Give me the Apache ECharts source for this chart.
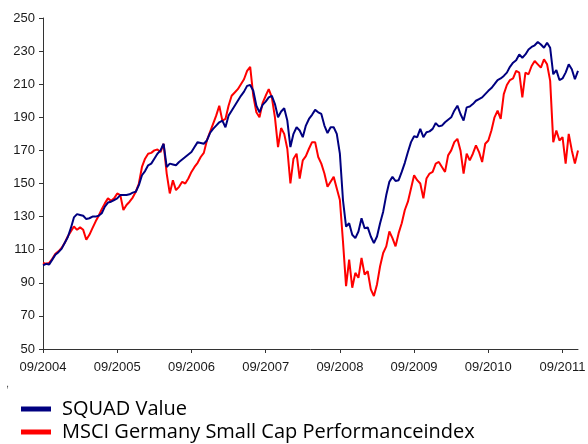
<!DOCTYPE html>
<html>
<head>
<meta charset="utf-8">
<script src="https://cdn.jsdelivr.net/npm/echarts@6/dist/echarts.min.js"></script>
<style>
  html, body { margin: 0; padding: 0; background: #fff; }
  #chart { width: 588px; height: 444px; }
</style>
</head>
<body>
<div id="chart"></div>
<script>
  // half-month steps starting 09/2004
  const yearTicks = [0, 12, 24, 36, 48, 60, 72, 84];
  const yearLabels = ['09/2004', '09/2005', '09/2006', '09/2007', '09/2008', '09/2009', '09/2010', '09/2011'];

  const squadValue = [
    100.5, 101.5, 101, 104, 107, 108.5, 110.5, 114, 117.5, 123,
    129.5, 131.5, 131, 130.5, 128.5, 129, 130, 130, 130.5, 132,
    136, 138.5, 139, 140, 141, 143, 143, 143, 143.5, 144.5,
    145, 149, 155, 157.5, 161, 162, 165, 168, 170, 174,
    160, 162, 161.5, 161, 163, 164.5, 166, 167.5, 169, 172,
    175, 174.5, 174, 176, 180.5, 183, 185, 187, 188, 184,
    191, 194, 197, 200, 203, 205.5, 209, 209.5, 206, 197,
    193, 197.5, 199.5, 202, 203, 198, 190, 193.5, 195.5, 188,
    172, 180, 184, 182, 178, 185, 189, 191.5, 194.5, 193,
    192, 185, 180.5, 184, 184, 180, 168, 140, 124, 126,
    119, 117, 121, 129, 123, 123.5, 118, 114, 118, 126,
    133, 143, 151, 154, 151.5, 152, 157, 162.5, 169, 175,
    178.5, 178, 183, 178, 181, 181.5, 183, 186.5, 184.5, 185,
    187, 188.5, 190, 194, 197, 192, 188, 196, 196.5, 198,
    200, 201, 202, 204, 206, 207.7, 210, 212.5, 213.5, 215,
    217, 220.5, 223, 224.5, 228, 226, 228, 231, 232.5, 233.5,
    235.5, 234, 232, 235, 232, 216, 218.5, 212.5, 213.5, 217,
    222, 219, 213, 218
  ];

  const msciSmallCap = [
    102, 101.5, 102, 104.5, 107.5, 109, 111, 114, 118, 121,
    124, 122, 123.5, 122, 116, 119, 123, 127, 130.5, 134.5,
    138, 141, 139.5, 141, 144, 143, 134, 137, 139, 141.5,
    145, 150, 160, 165, 168, 168.5, 170, 170.5, 169, 174,
    156, 144, 152, 146, 148, 151, 150, 153, 157, 160,
    162.5, 166, 168.5, 176, 181, 186, 191, 197, 188, 189,
    197, 203, 205, 207, 210, 213, 218, 220.5, 203, 193,
    190, 198.5, 203, 207, 202, 190, 172, 183.5, 180, 171,
    150, 165, 168, 153, 164, 166.5, 171, 175, 175, 166,
    162, 156, 148, 151, 154, 147, 140, 115, 88, 104,
    87, 96, 93, 105, 95, 97, 86, 82, 89, 100,
    108, 112, 121, 117, 112, 120, 126, 134, 139, 147,
    155, 152, 150, 141, 153, 156, 157, 162, 163, 160,
    157, 167, 170, 175, 177, 170, 156, 168, 164, 168,
    173, 169, 163, 174, 176, 182, 190, 194, 189, 204,
    209.5, 212.5, 213.5, 218, 217, 202, 217, 216, 221, 224,
    222, 220, 225, 222, 212, 175, 182, 176, 178, 162,
    180, 170, 162, 170
  ];

  const toPairs = (arr) => arr.map((v, i) => [i * 0.5, v]);

  const chart = echarts.init(document.getElementById('chart'), null, { renderer: 'canvas' });

  chart.setOption({
    animation: false,
    backgroundColor: '#ffffff',
    grid: {
      left: 43,
      right: 10,
      top: 18,
      bottom: 95,
      outerBoundsMode: 'none',
    },
    legend: {
      orient: 'vertical',
      left: 21,
      top: 399,
      padding: 0,
      icon: 'rect',
      itemWidth: 30,
      itemHeight: 5,
      itemGap: 3,
      data: ['SQUAD Value', 'MSCI Germany Small Cap Performanceindex'],
      textStyle: {
        fontFamily: 'Open Sans',
        fontSize: 20,
        color: '#000',
        lineHeight: 20,
        padding: [0, 0, 0, 6],
      },
    },
    graphic: [
      {
        type: 'text',
        left: 6,
        top: 378,
        style: { text: ',', fontSize: 11, fill: '#555', fontFamily: 'Liberation Sans' },
      },
    ],
    xAxis: {
      type: 'value',
      min: 0,
      max: 86.5,
      interval: 12,
      splitLine: { show: false },
      axisLine: { show: true, lineStyle: { color: '#333', width: 1 } },
      axisTick: {
        show: true,
        length: 4,
        customValues: yearTicks,
        lineStyle: { color: '#333' },
      },
      axisLabel: {
        customValues: yearTicks,
        margin: 12,
        fontFamily: 'Liberation Sans',
        fontSize: 13,
        color: '#1a1a1a',
        formatter: (v) => yearLabels[yearTicks.indexOf(v)] || '',
      },
    },
    yAxis: {
      type: 'value',
      min: 50,
      max: 250,
      interval: 20,
      splitLine: { show: false },
      axisLine: { show: true, lineStyle: { color: '#333', width: 1 } },
      axisTick: { show: true, length: 4, lineStyle: { color: '#333' } },
      axisLabel: {
        margin: 8,
        fontFamily: 'Liberation Sans',
        fontSize: 13,
        color: '#1a1a1a',
      },
    },
    series: [
      {
        name: 'MSCI Germany Small Cap Performanceindex',
        type: 'line',
        data: toPairs(msciSmallCap),
        showSymbol: false,
        color: '#ff0000',
        lineStyle: { width: 2, color: '#ff0000' },
        z: 2,
      },
      {
        name: 'SQUAD Value',
        type: 'line',
        data: toPairs(squadValue),
        showSymbol: false,
        color: '#000080',
        lineStyle: { width: 2, color: '#000080' },
        z: 3,
      },
    ],
  });
</script>
</body>
</html>
